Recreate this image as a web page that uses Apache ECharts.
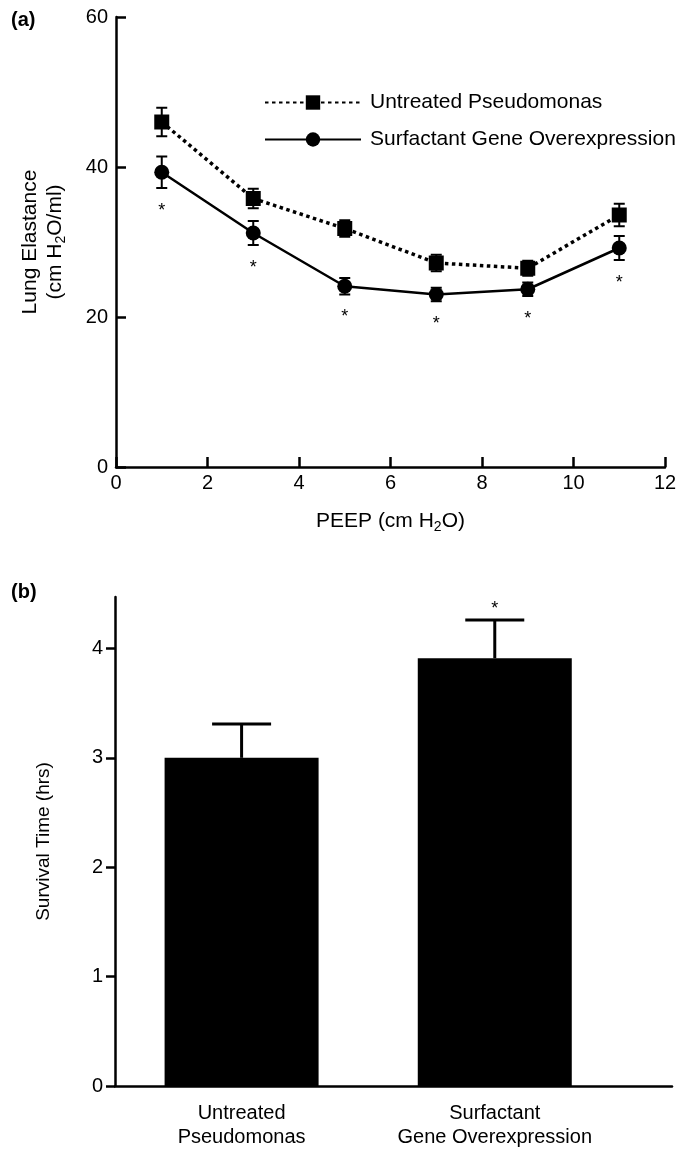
<!DOCTYPE html>
<html>
<head>
<meta charset="utf-8">
<script src="https://cdn.jsdelivr.net/npm/echarts@6/dist/echarts.min.js"></script>
<style>
  html, body { margin: 0; padding: 0; background: #fff; }
  #main { width: 685px; height: 1159px; }
</style>
</head>
<body>
<div id="main"></div>
<script>
// panel (a): lung elastance vs PEEP
var peep = [1, 3, 5, 7, 9, 11];
var untreatedMean = [46.0, 35.8, 31.8, 27.2, 26.5, 33.6];
var untreatedErr = [1.9, 1.3, 1.1, 1.1, 1.0, 1.5];
var surfMean = [39.3, 31.2, 24.1, 23.0, 23.7, 29.2];
var surfErr = [2.1, 1.6, 1.1, 0.9, 0.9, 1.6];
var surfSig = [1, 1, 1, 1, 1, 1];

// panel (b): survival time
var groups = ['Untreated\nPseudomonas', 'Surfactant\nGene Overexpression'];
var groupPos = [1, 2];
var survMean = [3.0, 3.91];
var survErr = [0.31, 0.35];
var survSig = [0, 1];

var FONT = '"Liberation Sans", Arial, Helvetica, sans-serif';
var chart = echarts.init(document.getElementById('main'));

function errBars(capW, lw, both, starBelow) {
    return function (params, api) {
        var x = api.value(0), lo = api.value(1), hi = api.value(2);
        var pLo = api.coord([x, lo]);
        var pHi = api.coord([x, hi]);
        var st = { stroke: '#000', lineWidth: lw };
        var kids = [
            { type: 'line', shape: { x1: pLo[0], y1: pLo[1], x2: pHi[0], y2: pHi[1] }, style: st },
            { type: 'line', shape: { x1: pHi[0] - capW / 2, y1: pHi[1], x2: pHi[0] + capW / 2, y2: pHi[1] }, style: st }
        ];
        if (both) {
            kids.push({ type: 'line', shape: { x1: pLo[0] - capW / 2, y1: pLo[1], x2: pLo[0] + capW / 2, y2: pLo[1] }, style: st });
        }
        if (api.value(3)) {
            var sy = starBelow ? pLo[1] + 14 : pHi[1] - 20;
            kids.push({
                type: 'text',
                style: { text: '*', x: pLo[0], y: sy, align: 'center', verticalAlign: 'top', fontSize: 18, fontFamily: FONT, fill: '#000' }
            });
        }
        return { type: 'group', children: kids };
    };
}

var untreatedLine = peep.map(function (p, i) { return [p, untreatedMean[i]]; });
var surfLine = peep.map(function (p, i) { return [p, surfMean[i]]; });
var untreatedErrData = peep.map(function (p, i) { return [p, untreatedMean[i] - untreatedErr[i], untreatedMean[i] + untreatedErr[i], 0]; });
var surfErrData = peep.map(function (p, i) { return [p, surfMean[i] - surfErr[i], surfMean[i] + surfErr[i], surfSig[i]]; });
var survBars = groupPos.map(function (p, i) { return [p, survMean[i]]; });
var survErrData = groupPos.map(function (p, i) { return [p, survMean[i], survMean[i] + survErr[i], survSig[i]]; });

var axisLine = { show: true, lineStyle: { color: '#000', width: 2.5 } };
var tickFont = { color: '#000', fontSize: 20, fontFamily: FONT };
var subRich = {
    n: { fontSize: 21, fontFamily: FONT, color: '#000' },
    s: { fontSize: 14, fontFamily: FONT, color: '#000', padding: [11, 0, 0, 0] }
};

var option = {
    backgroundColor: '#fff',
    animation: false,
    textStyle: { fontFamily: FONT },
    title: [
        { text: '(a)', left: 6, top: 5, textStyle: { fontSize: 20, fontWeight: 'bold', color: '#000', fontFamily: FONT } },
        { text: '(b)', left: 6, top: 577, textStyle: { fontSize: 20, fontWeight: 'bold', color: '#000', fontFamily: FONT } }
    ],
    legend: {
        orient: 'vertical',
        left: 259,
        top: 87,
        itemWidth: 96,
        itemHeight: 18,
        itemGap: 16,
        data: ['Untreated Pseudomonas', 'Surfactant Gene Overexpression'],
        textStyle: { color: '#000', fontSize: 21, fontFamily: FONT, padding: [0, 0, 0, 4] }
    },
    grid: [
        { left: 116, right: 20, top: 17, height: 450 },
        { left: 115, right: 13, top: 597, height: 489 }
    ],
    xAxis: [
        {
            gridIndex: 0, type: 'value', min: 0, max: 12, interval: 2,
            axisLine: axisLine,
            axisTick: { show: true, inside: true, length: 10, lineStyle: { color: '#000', width: 2.5 } },
            axisLabel: Object.assign({ margin: 6 }, tickFont),
            splitLine: { show: false },
            name: '{n|PEEP (cm H}{s|2}{n|O)}',
            nameLocation: 'middle',
            nameGap: 42,
            nameTextStyle: { rich: subRich }
        },
        {
            gridIndex: 1, type: 'value', min: 0.5, max: 2.7,
            axisLine: axisLine,
            axisTick: { show: false },
            axisLabel: Object.assign({
                margin: 15, lineHeight: 24,
                customValues: groupPos,
                formatter: function (v) { return groups[groupPos.indexOf(v)] || ''; }
            }, tickFont),
            splitLine: { show: false }
        }
    ],
    yAxis: [
        {
            gridIndex: 0, type: 'value', min: 0, max: 60, interval: 20,
            axisLine: axisLine,
            axisTick: { show: true, inside: true, length: 10, lineStyle: { color: '#000', width: 2.5 } },
            axisLabel: Object.assign({ margin: 8 }, tickFont),
            splitLine: { show: false },
            name: '{n|Lung Elastance}\n{n|(cm H}{s|2}{n|O/ml)}',
            nameLocation: 'middle',
            nameGap: 48,
            nameTextStyle: { rich: subRich, lineHeight: 25, align: 'center' }
        },
        {
            gridIndex: 1, type: 'value', min: 0, max: 4.47, interval: 1,
            axisLine: axisLine,
            axisTick: { show: true, length: 9, customValues: [0, 1, 2, 3, 4], lineStyle: { color: '#000', width: 2.5 } },
            axisLabel: Object.assign({ margin: 12, customValues: [0, 1, 2, 3, 4] }, tickFont),
            splitLine: { show: false },
            name: 'Survival Time (hrs)',
            nameLocation: 'middle',
            nameGap: 62,
            nameTextStyle: { color: '#000', fontSize: 19, fontFamily: FONT }
        }
    ],
    series: [
        {
            name: 'Untreated Pseudomonas', type: 'line', xAxisIndex: 0, yAxisIndex: 0,
            data: untreatedLine, symbol: 'rect', symbolSize: 15,
            itemStyle: { color: '#000' },
            lineStyle: { color: '#000', width: 3.5, type: [3.5, 3.5] }
        },
        {
            name: 'Surfactant Gene Overexpression', type: 'line', xAxisIndex: 0, yAxisIndex: 0,
            data: surfLine, symbol: 'circle', symbolSize: 15,
            itemStyle: { color: '#000' },
            lineStyle: { color: '#000', width: 2.5 }
        },
        {
            type: 'custom', xAxisIndex: 0, yAxisIndex: 0, data: untreatedErrData,
            encode: { x: 0, y: [1, 2] }, renderItem: errBars(11, 2, true, false), z: 3
        },
        {
            type: 'custom', xAxisIndex: 0, yAxisIndex: 0, data: surfErrData,
            encode: { x: 0, y: [1, 2] }, renderItem: errBars(11, 2, true, true), z: 3
        },
        {
            type: 'bar', xAxisIndex: 1, yAxisIndex: 1, data: survBars,
            barWidth: 154, itemStyle: { color: '#000' }
        },
        {
            type: 'custom', xAxisIndex: 1, yAxisIndex: 1, data: survErrData,
            encode: { x: 0, y: [1, 2] }, renderItem: errBars(59, 3, false, false), z: 3
        }
    ]
};

chart.setOption(option);
</script>
</body>
</html>
